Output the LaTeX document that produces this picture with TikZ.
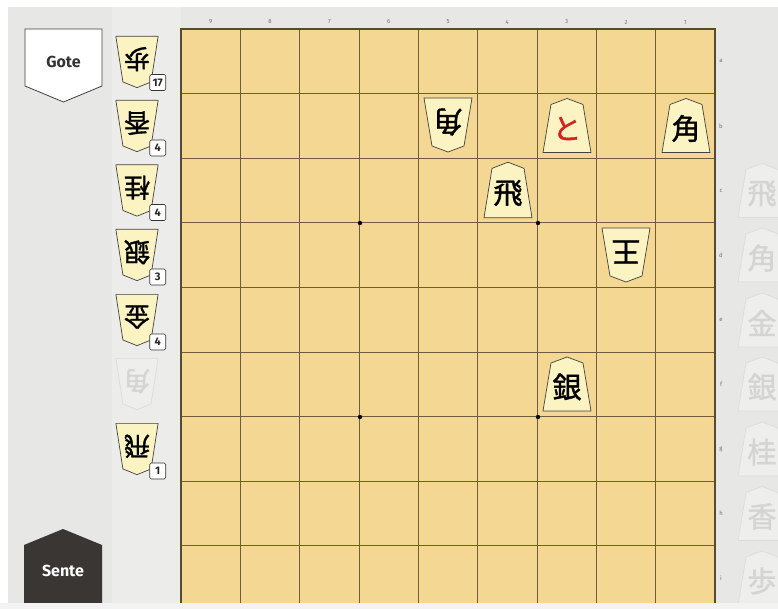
\documentclass[tikz,border=0pt]{standalone}
\usepackage{fontspec}
\setmainfont{Fira Sans}
\newfontfamily\jp{Noto Sans CJK JP}[FakeBold=1.3]
\definecolor{bgc}{HTML}{E7E7E6}
\definecolor{handc}{HTML}{ECECEB}
\definecolor{boardc}{HTML}{F3D792}
\definecolor{linec}{HTML}{6E5C3C}
\definecolor{piecec}{HTML}{FBF3C2}
\definecolor{sentec}{HTML}{3A3634}
\definecolor{fadec}{HTML}{EEEEED}
\definecolor{fadeline}{HTML}{DCDCDA}
\definecolor{fadetext}{HTML}{D4D4D2}
\definecolor{tokin}{HTML}{D42222}
\newcommand\shogipc[7]{%
  \begin{scope}[shift={(#2,#3)},rotate=#4,#5]
    \draw[#6] (0,-27) -- (16,-21) -- (24,27) -- (-24,27) -- (-16,-21) -- cycle;
    \node[glyph,rotate=#4] (#1) at (0,3) {#7};
  \end{scope}}
\begin{document}
\begin{tikzpicture}[x=1pt,y=-1pt,
  piece/.style={draw=black!75,line width=0.7pt,fill=piecec,line join=round},
  fpiece/.style={draw=fadeline,line width=0.7pt,fill=fadec,line join=round},
  glyph/.style={inner sep=0pt,font=\jp\fontsize{29}{29}\selectfont},
  badge/.style={draw=black!80,fill=white,rounded corners=1.5pt,line width=0.6pt,
    font=\bfseries\fontsize{11}{11}\selectfont,inner sep=1.5pt,minimum height=16pt,minimum width=16pt,anchor=east,text=black!85},
  coordlab/.style={font=\fontsize{6}{6}\selectfont,text=black!55,inner sep=0pt},
  sidelabel/.style={font=\bfseries\fontsize{16}{16}\selectfont,inner sep=0pt}]
\useasboundingbox (0,0) rectangle (778,609);
\clip (0,0) rectangle (778,609);
% backgrounds
\fill[white] (0,0) rectangle (778,609);
\fill[bgc] (8,7) rectangle (778,603);
\fill[handc] (112,7) rectangle (181,603);
% board
\fill[boardc] (181,29) rectangle (715,611);
\foreach \i in {1,...,8} {
  \draw[linec,line width=0.9pt] ({181+\i*59.333},29) -- ({181+\i*59.333},611);
  \draw[linec,line width=0.9pt] (181,{29+\i*64.6}) -- (715,{29+\i*64.6});
}
\draw[linec!80!black,line width=1.4pt] (181,611) -- (181,29) -- (715,29) -- (715,611);
\foreach \x/\y in {360/223,538/223,360/417,538/417} \fill[black] (\x,\y) circle (2.2);
% coordinates
\foreach \c in {1,...,9} \node[coordlab] (col\c) at ({181+(9-\c+0.5)*59.333},22) {\c};
\foreach \r [count=\k from 0] in {a,b,c,d,e,f,g,h,i} \node[coordlab] (row\r) at (721,{61.3+\k*64.6}) {\r};
% board pieces
\shogipc{p5b}{448}{125}{180}{}{piece}{角}
\shogipc{p3b}{567}{125.5}{0}{}{piece}{\textcolor{tokin}{と}}
\shogipc{p1b}{686}{125.5}{0}{}{piece}{角}
\shogipc{p4c}{508}{190}{0}{yscale=1.03}{piece}{飛}
\shogipc{p2d}{626}{255}{180}{}{piece}{王}
\shogipc{p3f}{567}{384}{0}{}{piece}{銀}
% gote hand
\begin{scope}[glyph/.append style={font=\jp\fontsize{26}{26}\selectfont}]
\shogipc{h1}{137}{62}{180}{xscale=.88,yscale=.95}{piece}{歩}
\shogipc{h2}{137}{126}{180}{xscale=.88,yscale=.95}{piece}{香}
\shogipc{h3}{137}{190.5}{180}{xscale=.88,yscale=.95}{piece}{桂}
\shogipc{h4}{137}{255}{180}{xscale=.88,yscale=.95}{piece}{銀}
\shogipc{h5}{137}{320}{180}{xscale=.88,yscale=.95}{piece}{金}
\shogipc{h6}{137}{384}{180}{xscale=.88,yscale=.95}{fpiece}{\textcolor{fadetext}{角}}
\shogipc{h7}{137}{449}{180}{xscale=.88,yscale=.95}{piece}{飛}
\end{scope}
\node[badge] (b1) at (166,82.5) {17};
\node[badge] (b2) at (166,148) {4};
\node[badge] (b3) at (166,212.5) {4};
\node[badge] (b4) at (166,277) {3};
\node[badge] (b5) at (166,342) {4};
\node[badge] (b7) at (166,471) {1};
% sente hand (empty, faded)
\shogipc{s1}{762}{190.5}{0}{}{fpiece}{\textcolor{fadetext}{飛}}
\shogipc{s2}{762}{255}{0}{}{fpiece}{\textcolor{fadetext}{角}}
\shogipc{s3}{762}{320}{0}{}{fpiece}{\textcolor{fadetext}{金}}
\shogipc{s4}{762}{384}{0}{}{fpiece}{\textcolor{fadetext}{銀}}
\shogipc{s5}{762}{449}{0}{}{fpiece}{\textcolor{fadetext}{桂}}
\shogipc{s6}{762}{513.5}{0}{}{fpiece}{\textcolor{fadetext}{香}}
\shogipc{s7}{762}{578}{0}{}{fpiece}{\textcolor{fadetext}{歩}}
% player labels
\draw[fill=white,draw=black!75,line width=0.8pt] (25,29) -- (102,29) -- (102,86) -- (63.5,102) -- (25,86) -- cycle;
\node[sidelabel,text=black!80] (gote) at (63.5,62) {Gote};
\fill[sentec] (24,545) -- (63,529) -- (102,545) -- (102,603) -- (24,603) -- cycle;
\node[sidelabel,text=white] (sente) at (63,571) {Sente};
% bottom strip
\fill[white!50!bgc] (0,603) rectangle (778,609);
\end{tikzpicture}
\end{document}
